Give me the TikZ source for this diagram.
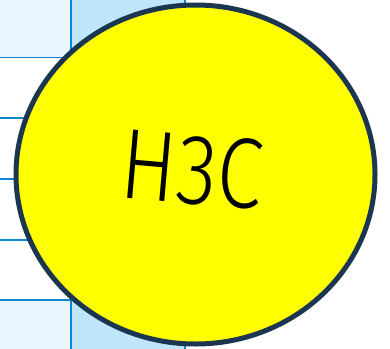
\documentclass[tikz,border=0pt]{standalone}
\usepackage{fontspec}
\usepackage{tikz}
\usetikzlibrary{shapes.geometric}
\newfontfamily\logofont{Fira Sans Light}
\definecolor{pale}{HTML}{EAF6FE}
\definecolor{sky}{HTML}{BEE5FA}
\definecolor{rule}{HTML}{0B87D1}
\definecolor{navy}{HTML}{1C3550}
\definecolor{lemon}{HTML}{FFFF00}
\tikzset{
  cell/.style={draw=rule,line width=1.6pt,inner sep=0pt,outer sep=0pt},
  badge/.style={ellipse,draw=navy,line width=5pt,fill=lemon,inner sep=0pt,
    minimum width=359pt,minimum height=339pt},
  brand/.style={font=\logofont\fontsize{100}{100}\selectfont,inner sep=0pt,
    rotate=-5,xscale=0.83}
}
\begin{document}
\begin{tikzpicture}[x=1pt,y=-1pt]
\useasboundingbox (0,0) rectangle (390,348);
\clip (0,0) rectangle (390,348);
% table behind the badge; left column tinted only in first and last rows
\foreach \r/\top/\bot/\tint in {1/-4/57.5/pale, 2/57.5/118/white, 3/118/179/white,
    4/179/240/white, 5/240/300/white, 6/300/352/pale}{
  \node[cell,fill=\tint,minimum width=75pt,minimum height={\bot-\top}]
    (left\r) at (33.5,{(\top+\bot)/2}) {};
  \node[cell,fill=sky,minimum width=114pt,minimum height={\bot-\top}]
    (right\r) at (128,{(\top+\bot)/2}) {};
}
\node[badge] (badge) at (195.5,174.5) {};
\node[brand] (name) at ([shift={(-3,-5)}]badge.center) {H3C};
\end{tikzpicture}
\end{document}
